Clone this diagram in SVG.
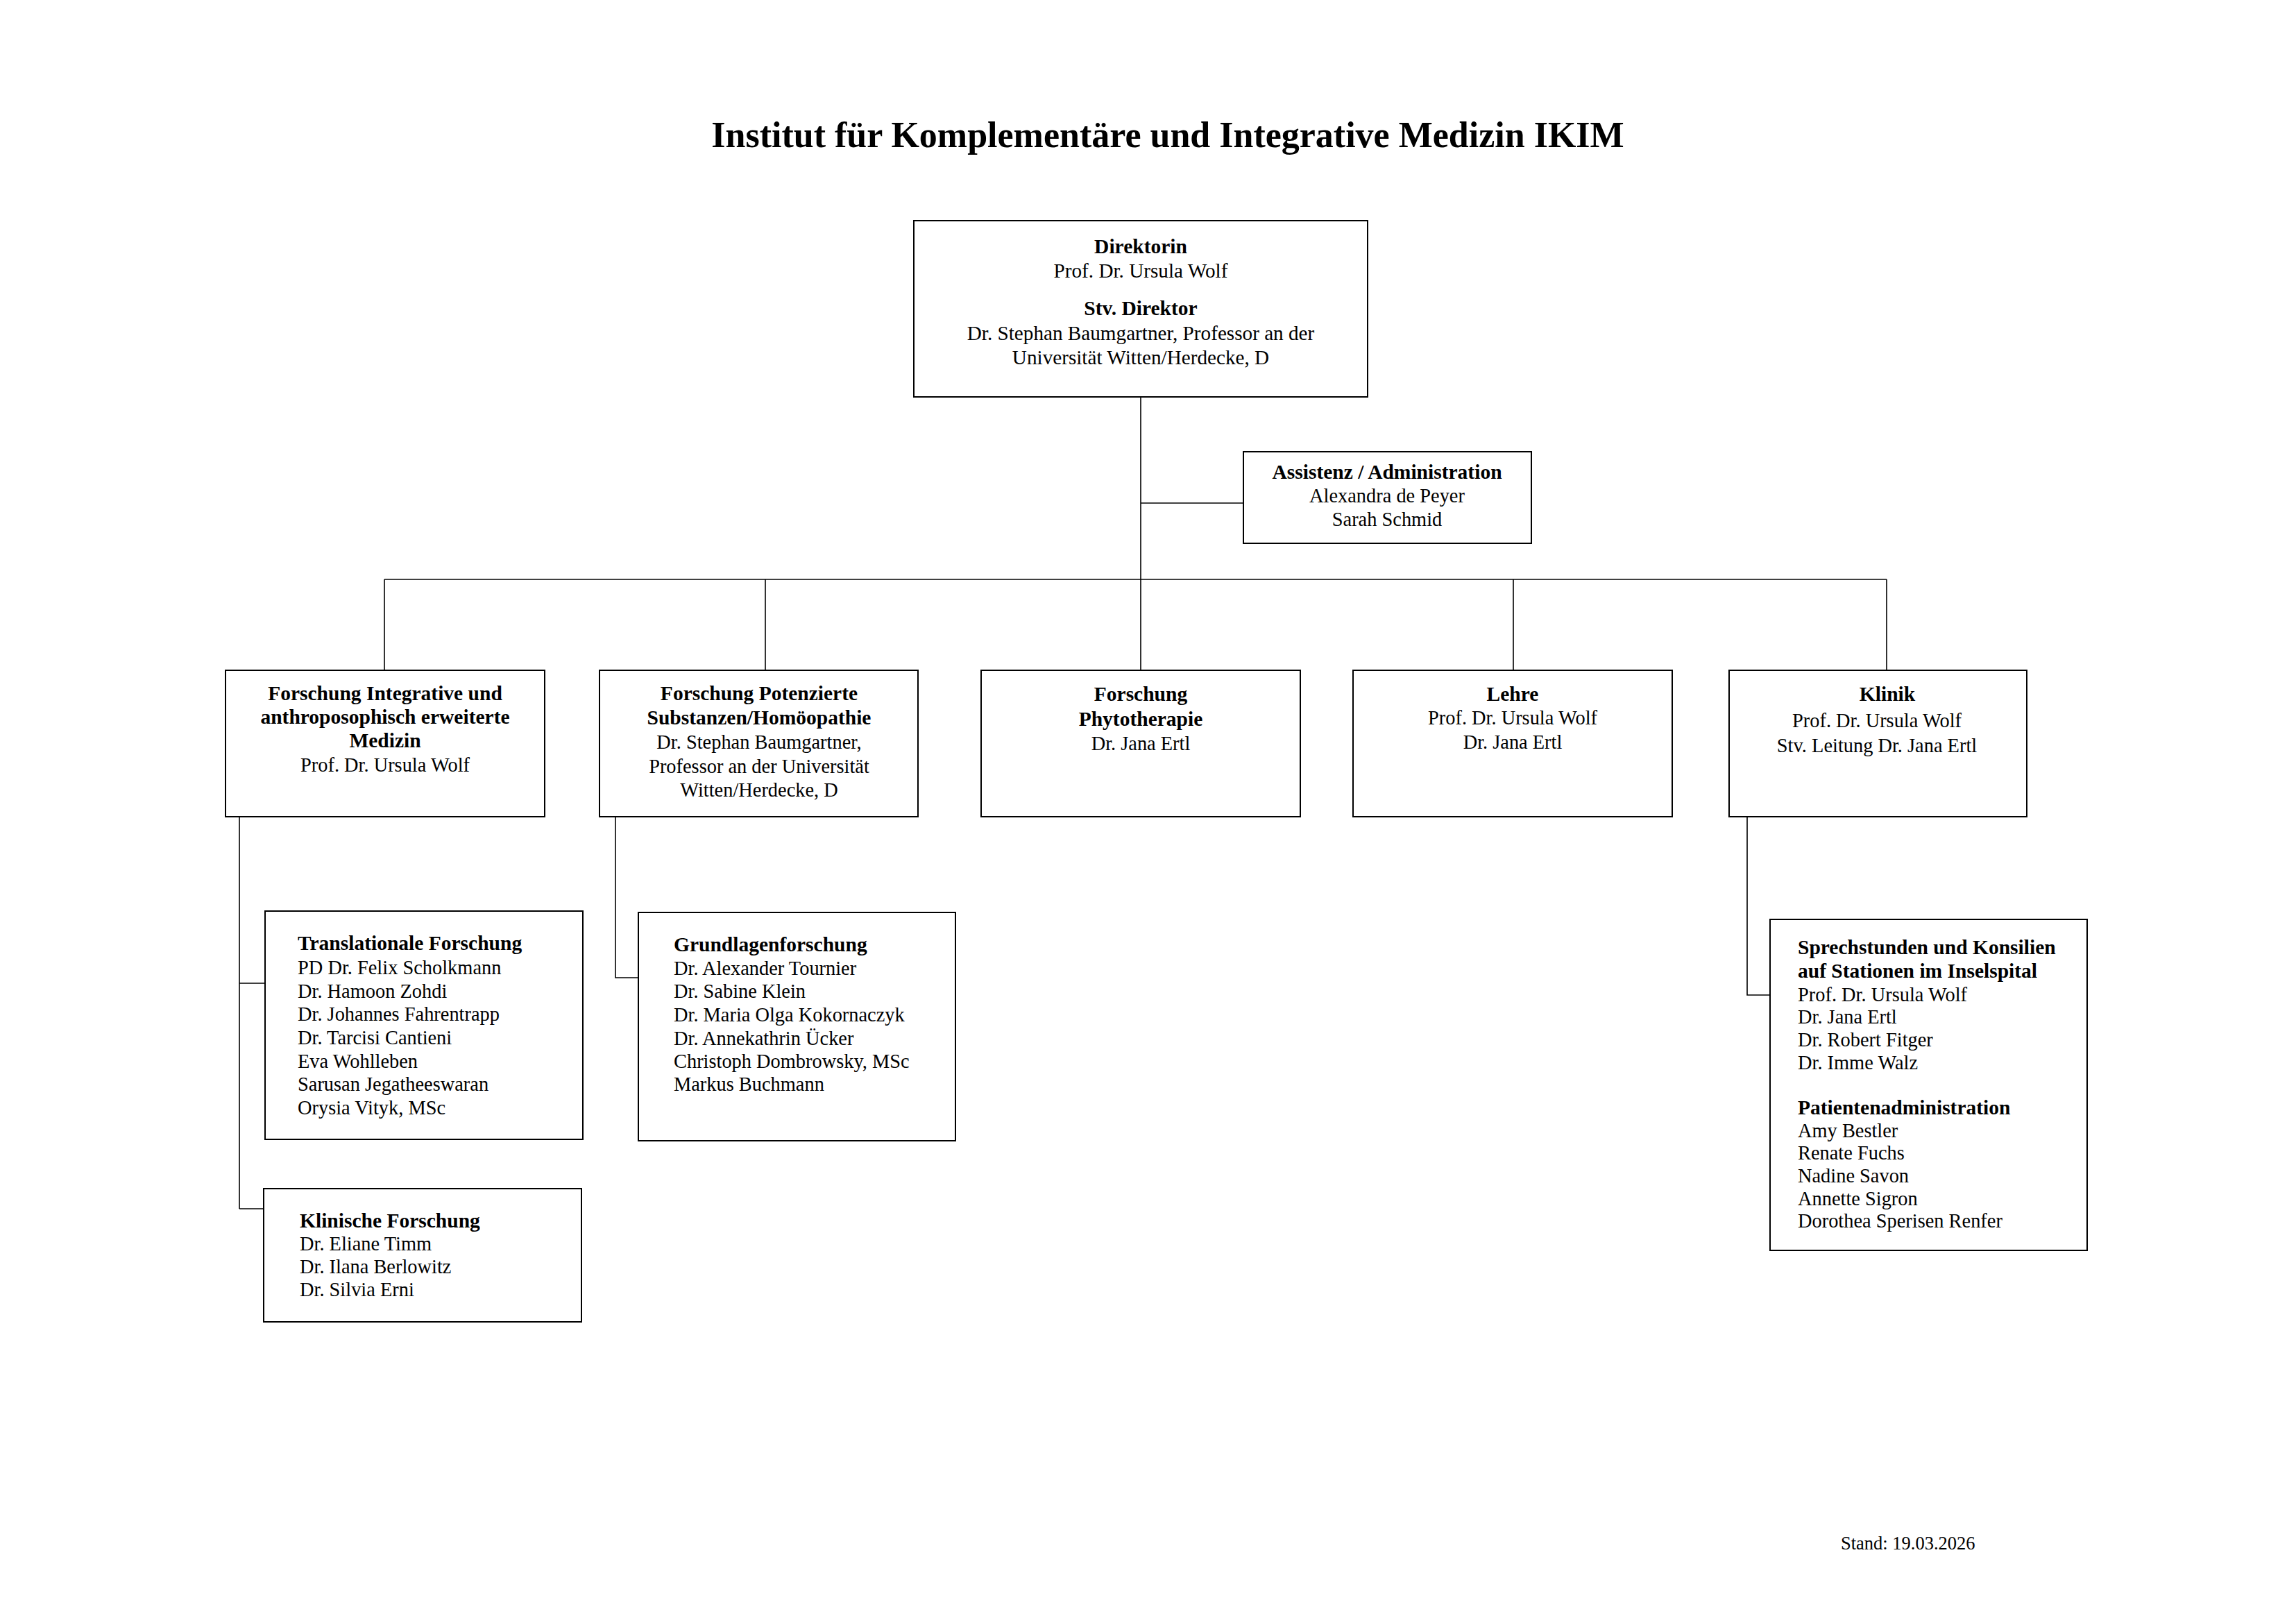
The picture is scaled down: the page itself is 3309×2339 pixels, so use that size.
<svg xmlns="http://www.w3.org/2000/svg" width="3309" height="2339" viewBox="0 0 3309 2339">
<style>
.bg{fill:#fff}
.box{fill:#fff;stroke:#000;stroke-width:2}
.conn{stroke:#000;stroke-width:1.6;fill:none}
text{font-family:'Liberation Serif','Times New Roman',serif;font-size:28.4px;fill:#000}
.b{font-weight:bold;font-size:29.5px}
.c{text-anchor:middle}
.title{font-weight:bold;font-size:52px;text-anchor:middle}
.foot{font-size:26.5px}
.dir{font-size:29.2px}
</style>
<rect class="bg" x="0" y="0" width="3309" height="2339"/>
<text id="title" class="title" x="1683" y="212">Institut für Komplementäre und Integrative Medizin IKIM</text>

<g id="connectors">
<path class="conn" d="M1644 572 V835"/>
<path class="conn" d="M1644 725 H1792"/>
<path class="conn" d="M554 835 H2719"/>
<path class="conn" d="M554 835 V966 M1103 835 V966 M1644 835 V966 M2181 835 V966 M2719 835 V966"/>
<path class="conn" d="M345 1177 V1742 M345 1417 H382 M345 1742 H380"/>
<path class="conn" d="M887 1177 V1409 H920"/>
<path class="conn" d="M2518 1177 V1434 H2551"/>
</g>

<g id="direktorin">
<rect class="box" x="1317" y="318" width="654" height="254"/>
<text class="c b" x="1644" y="365">Direktorin</text>
<text class="c dir" x="1644" y="400">Prof. Dr. Ursula Wolf</text>
<text class="c b" x="1644" y="454">Stv. Direktor</text>
<text class="c dir" x="1644" y="490">Dr. Stephan Baumgartner, Professor an der</text>
<text class="c dir" x="1644" y="525">Universität Witten/Herdecke, D</text>
</g>

<g id="assistenz">
<rect class="box" x="1792" y="651" width="415" height="132"/>
<text class="c b" x="1999" y="690">Assistenz / Administration</text>
<text class="c" x="1999" y="724">Alexandra de Peyer</text>
<text class="c" x="1999" y="758">Sarah Schmid</text>
</g>

<g id="forschung-integrative">
<rect class="box" x="325" y="966" width="460" height="211"/>
<text class="c b" x="555" y="1009">Forschung Integrative und</text>
<text class="c b" x="555" y="1043">anthroposophisch erweiterte</text>
<text class="c b" x="555" y="1077">Medizin</text>
<text class="c" x="555" y="1112">Prof. Dr. Ursula Wolf</text>
</g>

<g id="forschung-potenzierte">
<rect class="box" x="864" y="966" width="459" height="211"/>
<text class="c b" x="1094" y="1009">Forschung Potenzierte</text>
<text class="c b" x="1094" y="1044">Substanzen/Homöopathie</text>
<text class="c" x="1094" y="1079">Dr. Stephan Baumgartner,</text>
<text class="c" x="1094" y="1114">Professor an der Universität</text>
<text class="c" x="1094" y="1148">Witten/Herdecke, D</text>
</g>

<g id="forschung-phytotherapie">
<rect class="box" x="1414" y="966" width="460" height="211"/>
<text class="c b" x="1644" y="1010">Forschung</text>
<text class="c b" x="1644" y="1046">Phytotherapie</text>
<text class="c" x="1644" y="1081">Dr. Jana Ertl</text>
</g>

<g id="lehre">
<rect class="box" x="1950" y="966" width="460" height="211"/>
<text class="c b" x="2180" y="1010">Lehre</text>
<text class="c" x="2180" y="1044">Prof. Dr. Ursula Wolf</text>
<text class="c" x="2180" y="1079">Dr. Jana Ertl</text>
</g>

<g id="klinik">
<rect class="box" x="2492" y="966" width="429" height="211"/>
<text class="c b" x="2720" y="1010">Klinik</text>
<text class="c" x="2705" y="1048">Prof. Dr. Ursula Wolf</text>
<text class="c" x="2705" y="1084">Stv. Leitung Dr. Jana Ertl</text>
</g>

<g id="translationale-forschung">
<rect class="box" x="382" y="1313" width="458" height="329"/>
<text class="b" x="429" y="1369">Translationale Forschung</text>
<text x="429" y="1404">PD Dr. Felix Scholkmann</text>
<text x="429" y="1438">Dr. Hamoon Zohdi</text>
<text x="429" y="1471">Dr. Johannes Fahrentrapp</text>
<text x="429" y="1505">Dr. Tarcisi Cantieni</text>
<text x="429" y="1539">Eva Wohlleben</text>
<text x="429" y="1572">Sarusan Jegatheeswaran</text>
<text x="429" y="1606">Orysia Vityk, MSc</text>
</g>

<g id="klinische-forschung">
<rect class="box" x="380" y="1713" width="458" height="192"/>
<text class="b" x="432" y="1769">Klinische Forschung</text>
<text x="432" y="1802">Dr. Eliane Timm</text>
<text x="432" y="1835">Dr. Ilana Berlowitz</text>
<text x="432" y="1868">Dr. Silvia Erni</text>
</g>

<g id="grundlagenforschung">
<rect class="box" x="920" y="1315" width="457" height="329"/>
<text class="b" x="971" y="1371">Grundlagenforschung</text>
<text x="971" y="1405">Dr. Alexander Tournier</text>
<text x="971" y="1438">Dr. Sabine Klein</text>
<text x="971" y="1472">Dr. Maria Olga Kokornaczyk</text>
<text x="971" y="1506">Dr. Annekathrin Ücker</text>
<text x="971" y="1539">Christoph Dombrowsky, MSc</text>
<text x="971" y="1572">Markus Buchmann</text>
</g>

<g id="sprechstunden">
<rect class="box" x="2551" y="1325" width="457" height="477"/>
<text class="b" x="2591" y="1375">Sprechstunden und Konsilien</text>
<text class="b" x="2591" y="1409">auf Stationen im Inselspital</text>
<text x="2591" y="1443">Prof. Dr. Ursula Wolf</text>
<text x="2591" y="1475">Dr. Jana Ertl</text>
<text x="2591" y="1508">Dr. Robert Fitger</text>
<text x="2591" y="1541">Dr. Imme Walz</text>
<text class="b" x="2591" y="1606">Patientenadministration</text>
<text x="2591" y="1639">Amy Bestler</text>
<text x="2591" y="1671">Renate Fuchs</text>
<text x="2591" y="1704">Nadine Savon</text>
<text x="2591" y="1737">Annette Sigron</text>
<text x="2591" y="1769">Dorothea Sperisen Renfer</text>
</g>

<text id="stand" class="foot" x="2653" y="2233">Stand: 19.03.2026</text>
</svg>
